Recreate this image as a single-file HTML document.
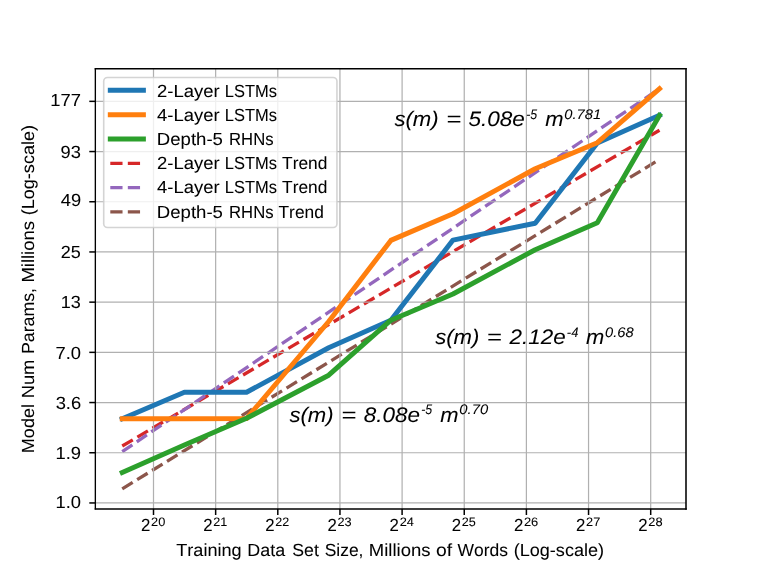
<!DOCTYPE html>
<html lang="en"><head><meta charset="utf-8"><title>Model size vs training data size</title>
<style>
html,body{margin:0;padding:0;background:#ffffff;}
svg{display:block;will-change:transform;}
text{font-family:"Liberation Sans",sans-serif;fill:#000000;stroke:#000000;stroke-width:0.06px;font-kerning:none;text-rendering:geometricPrecision;white-space:pre;}
</style></head><body>
<svg width="761" height="571" viewBox="0 0 761 571">
<rect x="0" y="0" width="761" height="571" fill="#ffffff"/>
<g fill="none" stroke-width="3.31" stroke-dasharray="12.23 5.29" stroke-linecap="butt">
<line x1="122.24" y1="446.00" x2="659.50" y2="130.20" stroke="#d62728"/>
<line x1="122.24" y1="451.60" x2="659.50" y2="88.70" stroke="#9467bd"/>
<line x1="122.24" y1="488.80" x2="659.50" y2="159.40" stroke="#8c564b"/>
</g>
<g stroke="#b0b0b0" stroke-width="1.22" fill="none">
<line x1="153.50" y1="68.80" x2="153.50" y2="508.90"/>
<line x1="215.65" y1="68.80" x2="215.65" y2="508.90"/>
<line x1="277.80" y1="68.80" x2="277.80" y2="508.90"/>
<line x1="339.95" y1="68.80" x2="339.95" y2="508.90"/>
<line x1="402.10" y1="68.80" x2="402.10" y2="508.90"/>
<line x1="464.25" y1="68.80" x2="464.25" y2="508.90"/>
<line x1="526.40" y1="68.80" x2="526.40" y2="508.90"/>
<line x1="588.55" y1="68.80" x2="588.55" y2="508.90"/>
<line x1="650.70" y1="68.80" x2="650.70" y2="508.90"/>
<line x1="95.40" y1="502.95" x2="686.00" y2="502.95"/>
<line x1="95.40" y1="452.75" x2="686.00" y2="452.75"/>
<line x1="95.40" y1="402.55" x2="686.00" y2="402.55"/>
<line x1="95.40" y1="352.35" x2="686.00" y2="352.35"/>
<line x1="95.40" y1="302.15" x2="686.00" y2="302.15"/>
<line x1="95.40" y1="251.95" x2="686.00" y2="251.95"/>
<line x1="95.40" y1="201.75" x2="686.00" y2="201.75"/>
<line x1="95.40" y1="151.55" x2="686.00" y2="151.55"/>
<line x1="95.40" y1="101.35" x2="686.00" y2="101.35"/>
</g>
<g fill="none" stroke-width="4.96" stroke-linejoin="round" stroke-linecap="square">
<polyline points="122.24,418.70 184.39,392.25 246.54,392.25 328.70,347.70 390.85,320.20 453.00,240.10 535.20,223.20 597.30,143.00 659.50,115.30" stroke="#1f77b4"/>
<polyline points="122.24,418.70 184.39,418.70 246.54,418.60 328.70,321.50 390.85,240.40 453.00,213.70 535.20,168.70 597.30,142.70 659.50,88.70" stroke="#ff7f0e"/>
<polyline points="122.24,472.50 184.39,445.00 246.54,418.30 328.70,375.20 390.85,320.20 453.00,294.00 535.20,249.70 597.30,222.80 659.50,115.30" stroke="#2ca02c"/>
</g>
<g stroke="#000000" stroke-linecap="square" fill="none">
<line x1="95.35" y1="68.80" x2="95.35" y2="508.90" stroke-width="1.35"/>
<line x1="686.00" y1="68.80" x2="686.00" y2="508.90" stroke-width="1.55"/>
<line x1="95.40" y1="68.80" x2="686.00" y2="68.80" stroke-width="1.45"/>
<line x1="95.40" y1="508.90" x2="686.00" y2="508.90" stroke-width="1.45"/>
</g>
<g stroke="#000000" stroke-width="1.50">
<line x1="153.50" y1="508.90" x2="153.50" y2="515.00"/>
<line x1="215.65" y1="508.90" x2="215.65" y2="515.00"/>
<line x1="277.80" y1="508.90" x2="277.80" y2="515.00"/>
<line x1="339.95" y1="508.90" x2="339.95" y2="515.00"/>
<line x1="402.10" y1="508.90" x2="402.10" y2="515.00"/>
<line x1="464.25" y1="508.90" x2="464.25" y2="515.00"/>
<line x1="526.40" y1="508.90" x2="526.40" y2="515.00"/>
<line x1="588.55" y1="508.90" x2="588.55" y2="515.00"/>
<line x1="650.70" y1="508.90" x2="650.70" y2="515.00"/>
<line x1="89.30" y1="502.95" x2="95.40" y2="502.95"/>
<line x1="89.30" y1="452.75" x2="95.40" y2="452.75"/>
<line x1="89.30" y1="402.55" x2="95.40" y2="402.55"/>
<line x1="89.30" y1="352.35" x2="95.40" y2="352.35"/>
<line x1="89.30" y1="302.15" x2="95.40" y2="302.15"/>
<line x1="89.30" y1="251.95" x2="95.40" y2="251.95"/>
<line x1="89.30" y1="201.75" x2="95.40" y2="201.75"/>
<line x1="89.30" y1="151.55" x2="95.40" y2="151.55"/>
<line x1="89.30" y1="101.35" x2="95.40" y2="101.35"/>
</g>
<g>
<text x="55.53" y="507.65" font-size="17.52" textLength="25.49" lengthAdjust="spacingAndGlyphs">1.0</text>
<text x="55.53" y="458.85" font-size="17.52" textLength="25.58" lengthAdjust="spacingAndGlyphs">1.9</text>
<text x="55.67" y="408.60" font-size="17.52" textLength="25.49" lengthAdjust="spacingAndGlyphs">3.6</text>
<text x="55.53" y="358.50" font-size="17.52" textLength="25.49" lengthAdjust="spacingAndGlyphs">7.0</text>
<text x="60.81" y="308.40" font-size="17.52" textLength="20.06" lengthAdjust="spacingAndGlyphs">13</text>
<text x="60.67" y="257.75" font-size="17.52" textLength="20.04" lengthAdjust="spacingAndGlyphs">25</text>
<text x="60.75" y="206.20" font-size="17.52" textLength="20.35" lengthAdjust="spacingAndGlyphs">49</text>
<text x="60.55" y="157.95" font-size="17.52" textLength="20.33" lengthAdjust="spacingAndGlyphs">93</text>
<text x="50.26" y="106.00" font-size="17.52" textLength="30.65" lengthAdjust="spacingAndGlyphs">177</text>
</g>
<g>
<text x="141.01" y="531.10" font-size="17.52" textLength="9.34" lengthAdjust="spacingAndGlyphs">2</text>
<text x="151.05" y="526.00" font-size="12.26" textLength="14.25" lengthAdjust="spacingAndGlyphs">20</text>
<text x="203.16" y="531.10" font-size="17.52" textLength="9.34" lengthAdjust="spacingAndGlyphs">2</text>
<text x="213.21" y="526.00" font-size="12.26" textLength="14.06" lengthAdjust="spacingAndGlyphs">21</text>
<text x="265.31" y="531.10" font-size="17.52" textLength="9.34" lengthAdjust="spacingAndGlyphs">2</text>
<text x="275.37" y="526.00" font-size="12.26" textLength="13.98" lengthAdjust="spacingAndGlyphs">22</text>
<text x="327.46" y="531.10" font-size="17.52" textLength="9.34" lengthAdjust="spacingAndGlyphs">2</text>
<text x="337.51" y="526.00" font-size="12.26" textLength="14.15" lengthAdjust="spacingAndGlyphs">23</text>
<text x="389.61" y="531.10" font-size="17.52" textLength="9.34" lengthAdjust="spacingAndGlyphs">2</text>
<text x="399.65" y="526.00" font-size="12.26" textLength="14.25" lengthAdjust="spacingAndGlyphs">24</text>
<text x="451.76" y="531.10" font-size="17.52" textLength="9.34" lengthAdjust="spacingAndGlyphs">2</text>
<text x="461.81" y="526.00" font-size="12.26" textLength="14.03" lengthAdjust="spacingAndGlyphs">25</text>
<text x="513.91" y="531.10" font-size="17.52" textLength="9.34" lengthAdjust="spacingAndGlyphs">2</text>
<text x="523.95" y="526.00" font-size="12.26" textLength="14.36" lengthAdjust="spacingAndGlyphs">26</text>
<text x="576.06" y="531.10" font-size="17.52" textLength="9.34" lengthAdjust="spacingAndGlyphs">2</text>
<text x="586.11" y="526.00" font-size="12.26" textLength="14.17" lengthAdjust="spacingAndGlyphs">27</text>
<text x="638.21" y="531.10" font-size="17.52" textLength="9.34" lengthAdjust="spacingAndGlyphs">2</text>
<text x="648.25" y="526.00" font-size="12.26" textLength="14.29" lengthAdjust="spacingAndGlyphs">28</text>
</g>
<text y="555.80" font-size="17.52"><tspan x="176.29" textLength="65.33" lengthAdjust="spacingAndGlyphs">Training</tspan> <tspan x="247.37" textLength="37.81" lengthAdjust="spacingAndGlyphs">Data</tspan> <tspan x="292.22" textLength="26.59" lengthAdjust="spacingAndGlyphs">Set</tspan> <tspan x="324.63" textLength="38.84" lengthAdjust="spacingAndGlyphs">Size,</tspan> <tspan x="368.88" textLength="61.59" lengthAdjust="spacingAndGlyphs">Millions</tspan> <tspan x="435.96" textLength="16.12" lengthAdjust="spacingAndGlyphs">of</tspan> <tspan x="457.52" textLength="50.45" lengthAdjust="spacingAndGlyphs">Words</tspan> <tspan x="513.70" textLength="90.38" lengthAdjust="spacingAndGlyphs">(Log-scale)</tspan></text>
<text y="0.00" font-size="17.52" transform="translate(34.4,453.3) rotate(-90)"><tspan x="0.14" textLength="49.15" lengthAdjust="spacingAndGlyphs">Model</tspan> <tspan x="55.01" textLength="38.63" lengthAdjust="spacingAndGlyphs">Num</tspan> <tspan x="99.25" textLength="66.06" lengthAdjust="spacingAndGlyphs">Params,</tspan> <tspan x="170.69" textLength="61.59" lengthAdjust="spacingAndGlyphs">Millions</tspan> <tspan x="237.97" textLength="90.38" lengthAdjust="spacingAndGlyphs">(Log-scale)</tspan></text>
<g>
<text y="126.20" font-size="21.01" font-style="italic"><tspan x="394.45" textLength="44.25" lengthAdjust="spacingAndGlyphs">s(m)</tspan> <tspan x="446.18" textLength="14.92" lengthAdjust="spacingAndGlyphs">=</tspan> <tspan x="468.51" textLength="56.42" lengthAdjust="spacingAndGlyphs">5.08e</tspan></text>
<text x="526.17" y="118.80" font-size="13.88" textLength="11.00" lengthAdjust="spacingAndGlyphs" font-style="italic">-5</text>
<text x="545.34" y="126.20" font-size="21.01" textLength="18.28" lengthAdjust="spacingAndGlyphs" font-style="italic">m</text>
<text x="564.36" y="118.80" font-size="13.88" textLength="36.78" lengthAdjust="spacingAndGlyphs" font-style="italic">0.781</text>
</g>
<g>
<text y="344.30" font-size="21.01" font-style="italic"><tspan x="435.15" textLength="44.25" lengthAdjust="spacingAndGlyphs">s(m)</tspan> <tspan x="486.88" textLength="14.92" lengthAdjust="spacingAndGlyphs">=</tspan> <tspan x="509.53" textLength="56.09" lengthAdjust="spacingAndGlyphs">2.12e</tspan></text>
<text x="566.83" y="336.90" font-size="13.88" textLength="11.55" lengthAdjust="spacingAndGlyphs" font-style="italic">-4</text>
<text x="586.04" y="344.30" font-size="21.01" textLength="18.28" lengthAdjust="spacingAndGlyphs" font-style="italic">m</text>
<text x="605.06" y="336.90" font-size="13.88" textLength="28.52" lengthAdjust="spacingAndGlyphs" font-style="italic">0.68</text>
</g>
<g>
<text y="421.50" font-size="21.01" font-style="italic"><tspan x="289.45" textLength="44.25" lengthAdjust="spacingAndGlyphs">s(m)</tspan> <tspan x="341.18" textLength="14.92" lengthAdjust="spacingAndGlyphs">=</tspan> <tspan x="363.69" textLength="56.24" lengthAdjust="spacingAndGlyphs">8.08e</tspan></text>
<text x="421.17" y="414.10" font-size="13.88" textLength="11.00" lengthAdjust="spacingAndGlyphs" font-style="italic">-5</text>
<text x="440.34" y="421.50" font-size="21.01" textLength="18.28" lengthAdjust="spacingAndGlyphs" font-style="italic">m</text>
<text x="459.36" y="414.10" font-size="13.88" textLength="28.76" lengthAdjust="spacingAndGlyphs" font-style="italic">0.70</text>
</g>
<g>
<rect x="103.7" y="77.45" width="233.25" height="150.00" rx="3.8" ry="3.8" fill="#ffffff" fill-opacity="0.8" stroke="#cccccc" stroke-opacity="0.85" stroke-width="1.6"/>
<line x1="110.30" y1="90.30" x2="143.40" y2="90.30" stroke="#1f77b4" stroke-width="4.96" stroke-linecap="square"/>
<text y="97.00" font-size="17.52"><tspan x="157.03" textLength="62.59" lengthAdjust="spacingAndGlyphs">2-Layer</tspan> <tspan x="224.84" textLength="52.19" lengthAdjust="spacingAndGlyphs">LSTMs</tspan></text>
<line x1="110.30" y1="114.70" x2="143.40" y2="114.70" stroke="#ff7f0e" stroke-width="4.96" stroke-linecap="square"/>
<text y="120.60" font-size="17.52"><tspan x="157.14" textLength="62.49" lengthAdjust="spacingAndGlyphs">4-Layer</tspan> <tspan x="224.84" textLength="52.19" lengthAdjust="spacingAndGlyphs">LSTMs</tspan></text>
<line x1="110.30" y1="139.00" x2="143.40" y2="139.00" stroke="#2ca02c" stroke-width="4.96" stroke-linecap="square"/>
<text y="144.85" font-size="17.52"><tspan x="156.85" textLength="66.07" lengthAdjust="spacingAndGlyphs">Depth-5</tspan> <tspan x="229.09" textLength="44.43" lengthAdjust="spacingAndGlyphs">RHNs</tspan></text>
<line x1="110.30" y1="163.40" x2="143.40" y2="163.40" stroke="#d62728" stroke-width="3.31" stroke-dasharray="12.23 5.29"/>
<text y="168.80" font-size="17.52"><tspan x="157.03" textLength="62.59" lengthAdjust="spacingAndGlyphs">2-Layer</tspan> <tspan x="224.84" textLength="52.19" lengthAdjust="spacingAndGlyphs">LSTMs</tspan> <tspan x="282.06" textLength="45.28" lengthAdjust="spacingAndGlyphs">Trend</tspan></text>
<line x1="110.30" y1="187.70" x2="143.40" y2="187.70" stroke="#9467bd" stroke-width="3.31" stroke-dasharray="12.23 5.29"/>
<text y="193.15" font-size="17.52"><tspan x="157.14" textLength="62.49" lengthAdjust="spacingAndGlyphs">4-Layer</tspan> <tspan x="224.84" textLength="52.19" lengthAdjust="spacingAndGlyphs">LSTMs</tspan> <tspan x="282.06" textLength="45.28" lengthAdjust="spacingAndGlyphs">Trend</tspan></text>
<line x1="110.30" y1="211.80" x2="143.40" y2="211.80" stroke="#8c564b" stroke-width="3.31" stroke-dasharray="12.23 5.29"/>
<text y="217.60" font-size="17.52"><tspan x="156.85" textLength="66.07" lengthAdjust="spacingAndGlyphs">Depth-5</tspan> <tspan x="229.09" textLength="44.43" lengthAdjust="spacingAndGlyphs">RHNs</tspan> <tspan x="278.54" textLength="45.28" lengthAdjust="spacingAndGlyphs">Trend</tspan></text>
</g>
</svg>
</body></html>
